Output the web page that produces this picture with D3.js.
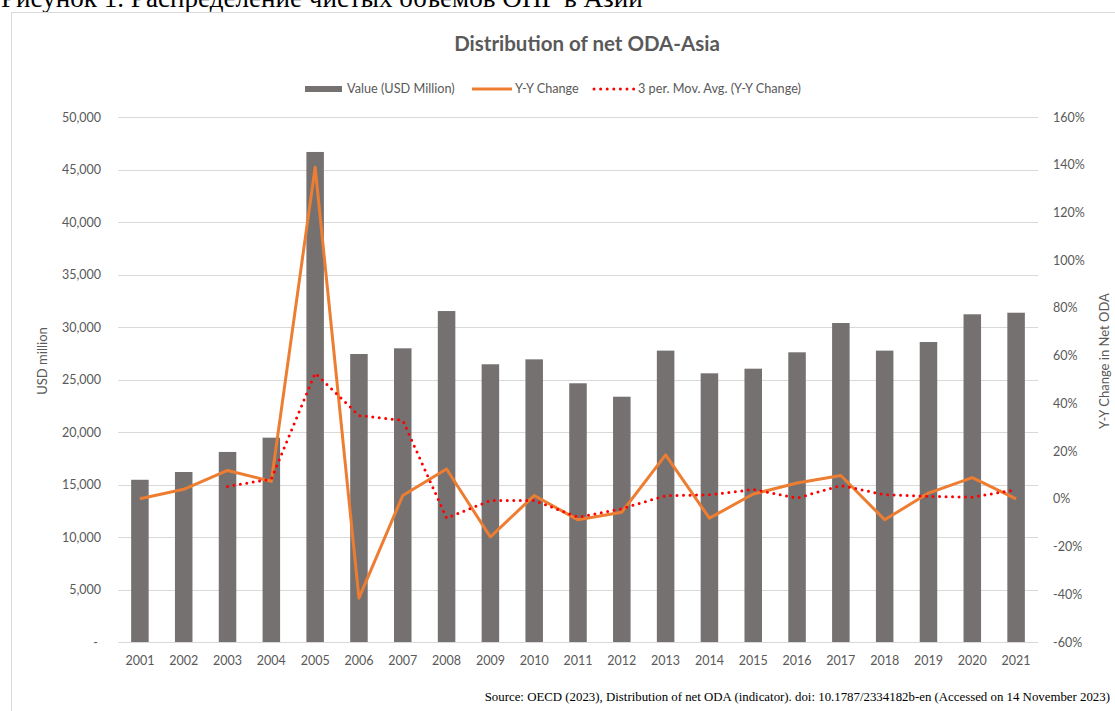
<!DOCTYPE html>
<html>
<head>
<meta charset="utf-8">
<script src="https://cdn.jsdelivr.net/npm/d3@7"></script>
<style>
  html, body { margin: 0; padding: 0; background: #fff; }
  svg { display: block; }
</style>
</head>
<body>
<svg id="chart" width="1115" height="711"></svg>
<script>
const years = ["2001","2002","2003","2004","2005","2006","2007","2008","2009","2010","2011","2012","2013","2014","2015","2016","2017","2018","2019","2020","2021"];
const valueUSD = [15450,16190,18100,19460,46670,27430,27970,31520,26450,26920,24640,23360,27750,25590,26030,27590,30380,27750,28570,31210,31360];
const yyChange = [0,4,11.9,7.3,138.9,-41.6,1.4,12.5,-16,1.4,-8.8,-5.6,18.4,-8.1,2,6.6,9.8,-8.8,2.4,8.9,0];
const movAvg = [null,null,5.2,8.3,52.7,34.9,32.9,-8.1,-0.7,-0.7,-7.7,-4.1,1.3,1.7,3.9,0.3,5.6,1.7,1.0,0.7,3.8];
const leftTicks = [0,5000,10000,15000,20000,25000,30000,35000,40000,45000,50000];
const rightTicks = [-60,-40,-20,0,20,40,60,80,100,120,140,160];

const svg = d3.select("#chart");
const sans = "Lato, 'Open Sans', 'Noto Sans', sans-serif";
const serif = "'Liberation Serif', 'Times New Roman', serif";
const txtGray = "#595959";

// caption (cut at top, as in the reference)
const cap = svg.append("text").attr("x", 1).attr("y", 7)
  .attr("font-family", serif).attr("font-size", 20).attr("fill", "#000")
  .text("Рисунок 1. Распределение чистых объемов ОПГ в Азии");
const cw = cap.node().getComputedTextLength();
cap.attr("font-size", 20 * 642 / cw);

// frame
svg.append("rect").attr("x", 11.5).attr("y", 12.5).attr("width", 1200).attr("height", 800)
  .attr("fill", "none").attr("stroke", "#d9d9d9").attr("stroke-width", 1);

const x = d3.scaleBand().domain(years).range([118, 1038]).paddingInner(0.6).paddingOuter(0.3);
const yL = d3.scaleLinear().domain([0, 50000]).range([642, 117]);
const yR = d3.scaleLinear().domain([-60, 160]).range([642, 117]);
const cx = d => x(d) + x.bandwidth() / 2;

// gridlines
svg.append("g").selectAll("line").data(leftTicks).join("line")
  .attr("x1", 118).attr("x2", 1038)
  .attr("y1", d => Math.round(yL(d)) + 0.5).attr("y2", d => Math.round(yL(d)) + 0.5)
  .attr("stroke", "#d9d9d9").attr("stroke-width", 1);

// left axis
const axL = d3.axisLeft(yL).tickValues(leftTicks).tickSize(0).tickPadding(0)
  .tickFormat(d => d === 0 ? "-" : d3.format(",")(d));
const gL = svg.append("g").attr("transform", "translate(101,0)").call(axL);
gL.select(".domain").remove();
gL.selectAll("text").attr("font-family", sans).attr("font-size", 12.5).attr("fill", txtGray).attr("dx", d => d === 0 ? -3 : 0);

// right axis
const axR = d3.axisRight(yR).tickValues(rightTicks).tickSize(0).tickPadding(0)
  .tickFormat(d => d + "%");
const gR = svg.append("g").attr("transform", "translate(1053,0)").call(axR);
gR.select(".domain").remove();
gR.selectAll("text").attr("font-family", sans).attr("font-size", 12.5).attr("fill", txtGray);

// bottom axis
const axB = d3.axisBottom(x).tickSize(0).tickPadding(0);
const gB = svg.append("g").attr("transform", "translate(0,656)").call(axB);
gB.select(".domain").remove();
gB.selectAll("text").attr("font-family", sans).attr("font-size", 12.5).attr("fill", txtGray);

// bars
svg.append("g").selectAll("rect").data(years).join("rect")
  .attr("x", d => x(d)).attr("width", x.bandwidth())
  .attr("y", (d, i) => yL(valueUSD[i])).attr("height", (d, i) => yL(0) - yL(valueUSD[i]))
  .attr("fill", "#767171");

// Y-Y line
const line = d3.line().defined(d => d[1] != null).x(d => cx(d[0])).y(d => yR(d[1]));
svg.append("path").datum(years.map((y, i) => [y, yyChange[i]]))
  .attr("d", line).attr("fill", "none").attr("stroke", "#ED7D31").attr("stroke-width", 3)
  .attr("stroke-linejoin", "round");

// moving avg
svg.append("path").datum(years.map((y, i) => [y, movAvg[i]]))
  .attr("d", line).attr("fill", "none").attr("stroke", "#FF0000").attr("stroke-width", 3)
  .attr("stroke-dasharray", "0 6.5").attr("stroke-linecap", "round");

// title
svg.append("text").attr("x", 587).attr("y", 51).attr("text-anchor", "middle")
  .attr("font-family", sans).attr("font-weight", "bold").attr("font-size", 20.5).attr("fill", txtGray)
  .text("Distribution of net ODA-Asia");

// legend
const lg = svg.append("g").attr("font-family", sans).attr("font-size", 12.7).attr("fill", txtGray);
lg.append("rect").attr("x", 305).attr("y", 86).attr("width", 37).attr("height", 6).attr("fill", "#767171");
lg.append("text").attr("x", 347).attr("y", 93).text("Value (USD Million)");
lg.append("line").attr("x1", 472).attr("x2", 512).attr("y1", 89).attr("y2", 89).attr("stroke", "#ED7D31").attr("stroke-width", 3);
lg.append("text").attr("x", 515).attr("y", 93).text("Y-Y Change");
lg.append("line").attr("x1", 594).attr("x2", 634).attr("y1", 89).attr("y2", 89).attr("stroke", "#FF0000").attr("stroke-width", 3)
  .attr("stroke-dasharray", "0 6.6").attr("stroke-linecap", "round");
lg.append("text").attr("x", 638).attr("y", 93).text("3 per. Mov. Avg. (Y-Y Change)");

// axis titles
svg.append("text").attr("transform", "translate(47,361) rotate(-90)").attr("text-anchor", "middle")
  .attr("font-family", sans).attr("font-size", 13).attr("fill", txtGray).text("USD million");
svg.append("text").attr("transform", "translate(1109,361) rotate(-90)").attr("text-anchor", "middle")
  .attr("font-family", sans).attr("font-size", 13).attr("fill", txtGray).text("Y-Y Change in Net ODA");

// source
const src = svg.append("text").attr("x", 1110).attr("y", 701).attr("text-anchor", "end")
  .attr("font-family", serif).attr("font-size", 12).attr("fill", "#000")
  .text("Source: OECD (2023), Distribution of net ODA (indicator). doi: 10.1787/2334182b-en (Accessed on 14 November 2023)");
const sw = src.node().getComputedTextLength();
src.attr("font-size", 12 * 626 / sw);
</script>
</body>
</html>
